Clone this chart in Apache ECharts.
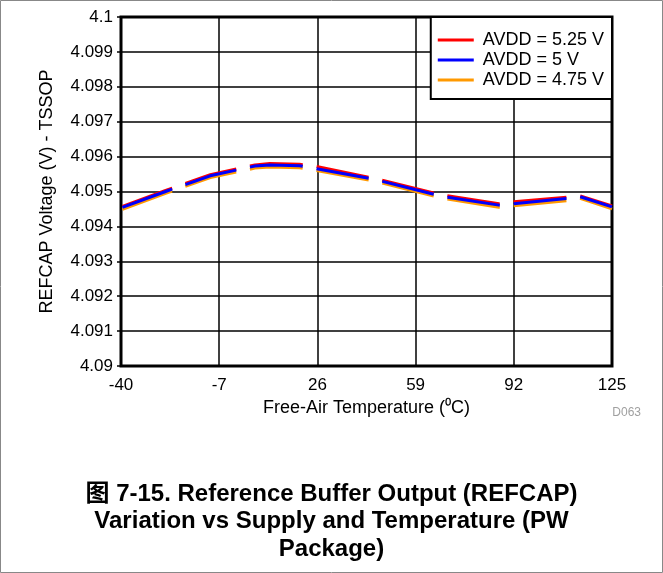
<!DOCTYPE html>
<html>
<head>
<meta charset="utf-8">
<script src="https://cdn.jsdelivr.net/npm/echarts@6/dist/echarts.min.js"></script>
<style>
  html, body { margin: 0; padding: 0; background: #fff; }
  #chart { width: 663px; height: 573px; }
</style>
</head>
<body>
<div id="chart"></div>
<script>
// Free-air temperature (°C) at each measured point
const temps = [-40, -25, -10, 5, 10, 20, 25, 45, 68, 87, 92, 110, 114, 125];

// REFCAP voltage (V) for each supply
const refcap525 = [4.09456, 4.09503, 4.09548, 4.09576, 4.09580, 4.09578, 4.09573, 4.09538, 4.09490, 4.09465, 4.09471, 4.09484, 4.09488, 4.09459];
const refcap500 = [4.09453, 4.09500, 4.09545, 4.09573, 4.09576, 4.09574, 4.09566, 4.09535, 4.09486, 4.09461, 4.09465, 4.09480, 4.09486, 4.09456];
const refcap475 = [4.09447, 4.09495, 4.09540, 4.09567, 4.09570, 4.09568, 4.09561, 4.09530, 4.09481, 4.09455, 4.09459, 4.09474, 4.09481, 4.09450];

const seriesNames = ['AVDD = 5.25 V', 'AVDD = 5 V', 'AVDD = 4.75 V'];
const xTickLabels = ['-40', '-7', '26', '59', '92', '125'];
const yTickLabels = ['4.09', '4.091', '4.092', '4.093', '4.094', '4.095', '4.096', '4.097', '4.098', '4.099', '4.1'];
const captionLines = [
  '图 7-15. Reference Buffer Output (REFCAP)',
  'Variation vs Supply and Temperature (PW',
  'Package)'
];

// x axis runs on (T - Tmin) so the ticks start exactly at -40
const tMin = -40, tStep = 33, tMax = 125;
const toPairs = vals => temps.map((t, i) => [t - tMin, vals[i]]);

const FONT = '"Liberation Sans", Arial, "Noto Sans CJK SC", sans-serif';

const lineSeries = (name, vals, color) => ({
  name: name,
  type: 'line',
  data: toPairs(vals),
  symbol: 'none',
  lineStyle: { color: color, width: 3, type: [53, 14], dashOffset: -1.5 },
  itemStyle: { color: color }
});

const caption = captionLines.map((line, i) => ({
  type: 'text',
  x: 331.5,
  y: 494 + i * 27.5,
  style: {
    text: line,
    textAlign: 'center',
    textVerticalAlign: 'middle',
    fill: '#000',
    font: 'bold 24px ' + FONT
  }
}));

const chart = echarts.init(document.getElementById('chart'), null, { renderer: 'canvas' });
chart.setOption({
  animation: false,
  backgroundColor: '#ffffff',
  textStyle: { fontFamily: FONT },
  grid: {
    left: 121, right: 51, top: 17, bottom: 207,
    show: true, borderColor: '#000', borderWidth: 3, backgroundColor: '#fff'
  },
  legend: {
    data: seriesNames,
    orient: 'vertical',
    right: 51,
    top: 17,
    backgroundColor: '#fff',
    borderColor: '#000',
    borderWidth: 2,
    borderRadius: 0,
    padding: [14, 8, 10, 7],
    itemGap: 2,
    itemWidth: 36,
    itemHeight: 3,
    icon: 'rect',
    textStyle: { fontFamily: FONT, fontSize: 18, color: '#000', lineHeight: 17, padding: [0, 0, 0, 4] }
  },
  xAxis: {
    type: 'value',
    min: 0,
    max: tMax - tMin,
    interval: tStep,
    name: 'Free-Air Temperature (⁰C)',
    nameLocation: 'middle',
    nameGap: 32,
    nameTextStyle: { fontFamily: FONT, fontSize: 18, color: '#000' },
    axisLine: { show: false },
    axisTick: { show: false },
    axisLabel: {
      margin: 11, fontSize: 17, color: '#000', fontFamily: FONT,
      formatter: v => xTickLabels[Math.round(v / tStep)]
    },
    splitLine: { show: true, lineStyle: { color: '#000', width: 1.5 } }
  },
  yAxis: {
    type: 'value',
    min: 4.09,
    max: 4.1,
    interval: 0.001,
    name: 'REFCAP Voltage (V) - TSSOP',
    nameLocation: 'middle',
    nameRotate: 90,
    nameGap: 65,
    nameTextStyle: { fontFamily: FONT, fontSize: 18, color: '#000' },
    axisLine: { show: false },
    axisTick: { show: true, inside: false, length: 4, lineStyle: { color: '#000', width: 1.5 } },
    axisLabel: {
      margin: 8, fontSize: 17, color: '#000', fontFamily: FONT,
      formatter: v => yTickLabels[Math.round((v - 4.09) / 0.001)]
    },
    splitLine: { show: true, lineStyle: { color: '#000', width: 1.5 } }
  },
  graphic: [
    {
      type: 'rect',
      shape: { x: 0.5, y: 0.5, width: 662, height: 572 },
      style: { fill: 'none', stroke: '#888', lineWidth: 1 },
      silent: true
    },
    {
      type: 'text',
      right: 22,
      top: 407,
      style: { text: 'D063', fill: '#a0a0a0', font: '12px ' + FONT }
    }
  ].concat(caption),
  series: [
    lineSeries(seriesNames[0], refcap525, '#ff0000'),
    lineSeries(seriesNames[2], refcap475, '#ff9900'),
    lineSeries(seriesNames[1], refcap500, '#0000ff')
  ]
});
</script>
</body>
</html>
